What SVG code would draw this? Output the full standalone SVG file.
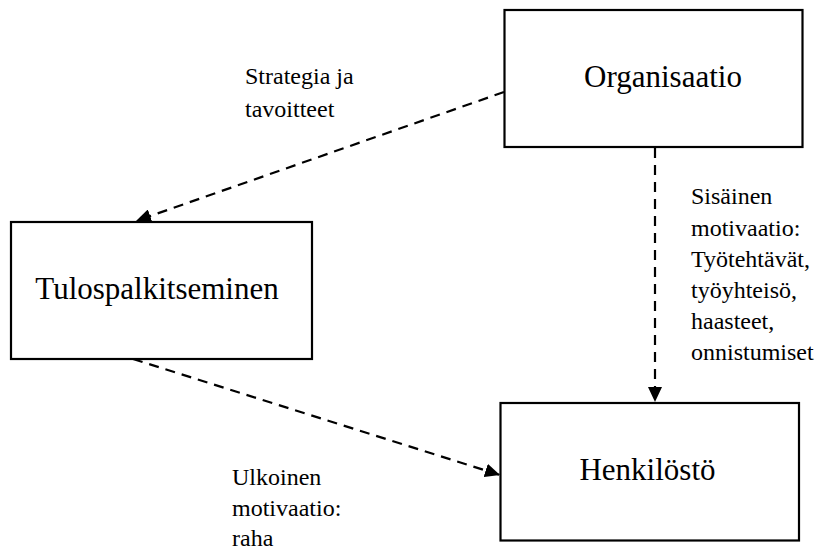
<svg xmlns="http://www.w3.org/2000/svg" width="830" height="550" viewBox="0 0 830 550">
  <style>
    .box { fill: #ffffff; stroke: #000000; stroke-width: 2.2; }
    .big { font-family: "Liberation Serif", "Times New Roman", serif; font-size: 31px; fill: #000000; text-anchor: middle; }
    .lbl { font-family: "Liberation Serif", "Times New Roman", serif; font-size: 24px; fill: #000000; }
    .link { fill: none; stroke: #000000; stroke-width: 2.2; stroke-dasharray: 10 7; }
  </style>
  <defs>
    <marker id="arrow" markerUnits="userSpaceOnUse" markerWidth="16" markerHeight="14" refX="15" refY="7" orient="auto">
      <path d="M0,0 L15,7 L0,14 z" fill="#000000"/>
    </marker>
  </defs>
  <rect width="830" height="550" fill="#ffffff"/>

  <g id="connectors">
    <line class="link" x1="504" y1="92" x2="136" y2="221" marker-end="url(#arrow)"/>
    <line class="link" x1="133" y1="359" x2="500" y2="475" marker-end="url(#arrow)"/>
    <line class="link" x1="655" y1="148" x2="655" y2="402" marker-end="url(#arrow)"/>
  </g>

  <g id="organisaatio">
    <rect class="box" x="504.5" y="10" width="298" height="137"/>
    <text class="big" x="663" y="87">Organisaatio</text>
  </g>

  <g id="tulospalkitseminen">
    <rect class="box" x="11" y="222" width="301" height="137"/>
    <text class="big" x="157" y="299">Tulospalkitseminen</text>
  </g>

  <g id="henkilosto">
    <rect class="box" x="500.5" y="403" width="298.5" height="137.5"/>
    <text class="big" x="647.5" y="480">Henkilöstö</text>
  </g>

  <g id="labels">
    <text class="lbl" x="245" y="84">Strategia ja</text>
    <text class="lbl" x="245" y="116.5">tavoitteet</text>

    <text class="lbl" x="691" y="204">Sisäinen</text>
    <text class="lbl" x="691" y="235.5">motivaatio:</text>
    <text class="lbl" x="691" y="266.5">Työtehtävät,</text>
    <text class="lbl" x="691" y="297.5">työyhteisö,</text>
    <text class="lbl" x="691" y="328.5">haasteet,</text>
    <text class="lbl" x="691" y="359.5">onnistumiset</text>

    <text class="lbl" x="232" y="485">Ulkoinen</text>
    <text class="lbl" x="232" y="516">motivaatio:</text>
    <text class="lbl" x="232" y="546">raha</text>
  </g>
</svg>
